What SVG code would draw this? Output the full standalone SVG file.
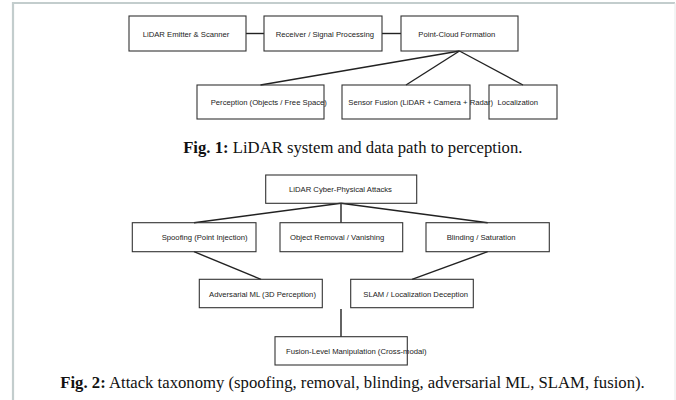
<svg xmlns="http://www.w3.org/2000/svg" width="676" height="400" viewBox="0 0 676 400">
<style>
.box{fill:none;stroke:#333;stroke-width:1.1}
.lbl{font-family:"Liberation Sans",Arial,sans-serif;font-size:7.7px;fill:#222}
.edge{stroke:#222;stroke-width:1.4;fill:none}
.cap{font-family:"Liberation Serif","Times New Roman",serif;font-size:16.7px;fill:#111}
.cap .b{font-weight:bold}
</style>
<rect width="676" height="400" fill="#fff"/>
<g id="frame" fill="none">
<path d="M13 400 V3 H675" stroke="#c3cdcd" stroke-width="2.2"/>
<path d="M675 3 V400" stroke="#e6eaea" stroke-width="1"/>
</g>
<g id="connectors">
<line class="edge" x1="246" y1="33.5" x2="264" y2="33.5"/>
<line class="edge" x1="382" y1="33.5" x2="401" y2="33.5"/>
<line class="edge" x1="459.5" y1="51" x2="260.5" y2="85"/>
<line class="edge" x1="459.5" y1="51" x2="406" y2="85"/>
<line class="edge" x1="459.5" y1="51" x2="523" y2="85"/>
<line class="edge" x1="341" y1="203.3" x2="194" y2="222.7"/>
<line class="edge" x1="341" y1="203.3" x2="341" y2="222.7"/>
<line class="edge" x1="341" y1="203.3" x2="487.7" y2="222.7"/>
<line class="edge" x1="194" y1="251.7" x2="261" y2="279.3"/>
<line class="edge" x1="487.7" y1="251.7" x2="412" y2="279.3"/>
<line class="edge" x1="341" y1="309" x2="341" y2="336.7"/>
</g>
<g id="n1"><rect class="box" x="129" y="16" width="117" height="35"/><text class="lbl" x="142.7" y="36.5">LiDAR Emitter &amp; Scanner</text></g>
<g id="n2"><rect class="box" x="264" y="16" width="118" height="35"/><text class="lbl" x="275.7" y="36.5">Receiver / Signal Processing</text></g>
<g id="n3"><rect class="box" x="401" y="16" width="117" height="35"/><text class="lbl" x="418.3" y="36.5">Point-Cloud Formation</text></g>
<g id="n4"><rect class="box" x="197" y="85" width="127" height="34"/><text class="lbl" x="210.7" y="105.3">Perception (Objects / Free Space)</text></g>
<g id="n5"><rect class="box" x="342" y="85" width="128" height="34"/><text class="lbl" x="348.3" y="105.3">Sensor Fusion (LiDAR + Camera + Radar)</text></g>
<g id="n6"><rect class="box" x="489" y="85" width="68" height="34"/><text class="lbl" x="497.5" y="105.3">Localization</text></g>
<text class="cap" x="352.8" y="153" text-anchor="middle"><tspan class="b">Fig. 1:</tspan> LiDAR system and data path to perception.</text>
<g id="a0"><rect class="box" x="265.7" y="175" width="151" height="28.3"/><text class="lbl" x="289" y="192">LiDAR Cyber-Physical Attacks</text></g>
<g id="a1"><rect class="box" x="132.3" y="222.7" width="123.7" height="29"/><text class="lbl" x="161.7" y="240">Spoofing (Point Injection)</text></g>
<g id="a2"><rect class="box" x="280" y="222.7" width="122.7" height="29"/><text class="lbl" x="290" y="240">Object Removal / Vanishing</text></g>
<g id="a3"><rect class="box" x="426" y="222.7" width="123.3" height="29"/><text class="lbl" x="446.7" y="240">Blinding / Saturation</text></g>
<g id="a4"><rect class="box" x="199.3" y="279.3" width="123" height="28.4"/><text class="lbl" x="209" y="296.5">Adversarial ML (3D Perception)</text></g>
<g id="a5"><rect class="box" x="350.7" y="279.3" width="122.6" height="28.4"/><text class="lbl" x="363.3" y="296.5">SLAM / Localization Deception</text></g>
<g id="a6"><rect class="box" x="275" y="336.7" width="132.3" height="28.3"/><text class="lbl" x="286" y="354">Fusion-Level Manipulation (Cross-modal)</text></g>
<text class="cap" x="352.5" y="388" text-anchor="middle"><tspan class="b">Fig. 2:</tspan> Attack taxonomy (spoofing, removal, blinding, adversarial ML, SLAM, fusion).</text>
</svg>
